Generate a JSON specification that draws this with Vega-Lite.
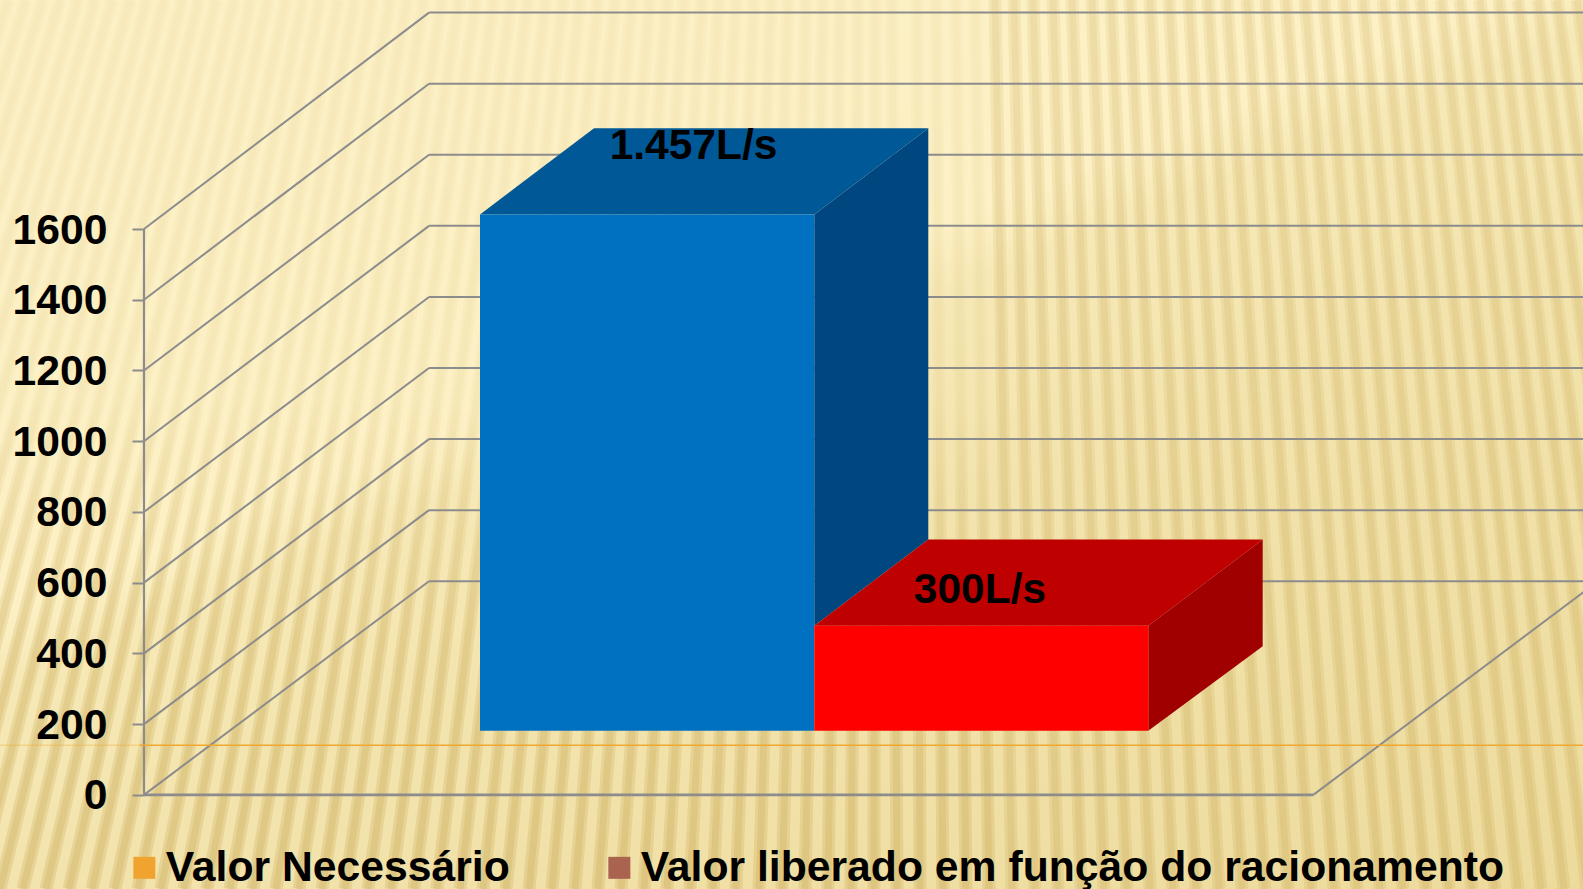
{"$schema":"https://vega.github.io/schema/vega-lite/v6.json","width":1439,"height":889,"autosize":{"type":"none"},"padding":{"left":144,"top":0,"right":0,"bottom":0},"background":"#FBEFC3","config":{"view":{"stroke":null},"font":"Liberation Sans"},
"datasets":{
"fundo":[{"nome":"fundo"}],
"listras":[{"xb":-299,"xt":-9},{"xb":-276,"xt":8},{"xb":-253,"xt":26},{"xb":-230,"xt":43},{"xb":-207,"xt":60},{"xb":-184,"xt":78},{"xb":-161,"xt":95},{"xb":-138,"xt":112},{"xb":-115,"xt":130},{"xb":-92,"xt":147},{"xb":-69,"xt":164},{"xb":-46,"xt":182},{"xb":-23,"xt":199},{"xb":0,"xt":216},{"xb":23,"xt":234},{"xb":46,"xt":251},{"xb":69,"xt":268},{"xb":92,"xt":286},{"xb":115,"xt":303},{"xb":138,"xt":320},{"xb":161,"xt":338},{"xb":184,"xt":355},{"xb":207,"xt":372},{"xb":230,"xt":390},{"xb":253,"xt":407},{"xb":276,"xt":424},{"xb":299,"xt":442},{"xb":322,"xt":459},{"xb":345,"xt":476},{"xb":368,"xt":494},{"xb":391,"xt":511},{"xb":414,"xt":528},{"xb":437,"xt":546},{"xb":460,"xt":563},{"xb":483,"xt":580},{"xb":506,"xt":598},{"xb":529,"xt":615},{"xb":552,"xt":632},{"xb":575,"xt":650},{"xb":598,"xt":667},{"xb":621,"xt":684},{"xb":644,"xt":702},{"xb":667,"xt":719},{"xb":690,"xt":736},{"xb":713,"xt":754},{"xb":736,"xt":771},{"xb":759,"xt":788},{"xb":782,"xt":806},{"xb":805,"xt":823},{"xb":828,"xt":840},{"xb":851,"xt":858},{"xb":874,"xt":875},{"xb":897,"xt":892},{"xb":920,"xt":917},{"xb":943,"xt":936},{"xb":966,"xt":956},{"xb":989,"xt":975},{"xb":1012,"xt":995},{"xb":1035,"xt":1014},{"xb":1058,"xt":1033},{"xb":1081,"xt":1053},{"xb":1104,"xt":1072},{"xb":1127,"xt":1092},{"xb":1150,"xt":1111},{"xb":1173,"xt":1130},{"xb":1196,"xt":1150},{"xb":1219,"xt":1169},{"xb":1242,"xt":1189},{"xb":1265,"xt":1208},{"xb":1288,"xt":1227},{"xb":1311,"xt":1247},{"xb":1334,"xt":1266},{"xb":1357,"xt":1286},{"xb":1380,"xt":1305},{"xb":1403,"xt":1324},{"xb":1426,"xt":1344},{"xb":1449,"xt":1363},{"xb":1472,"xt":1383},{"xb":1495,"xt":1402},{"xb":1518,"xt":1421},{"xb":1541,"xt":1441},{"xb":1564,"xt":1460},{"xb":1587,"xt":1480},{"xb":1610,"xt":1499},{"xb":1633,"xt":1518},{"xb":1656,"xt":1538},{"xb":1679,"xt":1557},{"xb":1702,"xt":1577},{"xb":1725,"xt":1596}],
"grade":[{"valor":0,"hb":604},{"valor":200,"hb":805},{"valor":400,"hb":1006},{"valor":600,"hb":1207},{"valor":800,"hb":1408},{"valor":1000,"hb":1609},{"valor":1200,"hb":1810},{"valor":1400,"hb":2011},{"valor":1600,"hb":2212}],
"frente":[{"serie":"Valor Necessário","x":480,"x2":814.3,"h":181,"h2":1641},{"serie":"Valor liberado em função do racionamento","x":814.3,"x2":1148.3,"h":181,"h2":478}],
"topo":[{"serie":"Valor Necessário","h":1641,"x":480,"x2":814.3},{"serie":"Valor Necessário","h":1885,"x":594,"x2":928.3},{"serie":"Valor liberado em função do racionamento","h":478,"x":814.3,"x2":1148.3},{"serie":"Valor liberado em função do racionamento","h":722,"x":928.3,"x2":1262.7}],
"lado":[{"serie":"Valor Necessário","x":814.3,"h":478,"h2":1641},{"serie":"Valor Necessário","x":928.3,"h":722,"h2":1885},{"serie":"Valor liberado em função do racionamento","x":1148.3,"h":181,"h2":478},{"serie":"Valor liberado em função do racionamento","x":1262.7,"h":420,"h2":722}],
"rotulos":[{"rotulo":"1.457L/s","x":693.5,"h":1797},{"rotulo":"300L/s","x":980,"h":542}],
"series":[{"serie":"Valor Necessário","valor":1457},{"serie":"Valor liberado em função do racionamento","valor":300}]
},
"resolve":{"scale":{"fill":"independent"},"axis":{"y":"independent"}},
"layer":[
{"data":{"name":"fundo"},"mark":{"type":"rect","fill":{"gradient":"linear","x1":0,"y1":0,"x2":0.825,"y2":1.13,"stops":[{"offset":0,"color":"#FCF0C6"},{"offset":0.40,"color":"#FCF0C4"},{"offset":0.44,"color":"#F7E9B7"},{"offset":0.58,"color":"#F3E4AE"},{"offset":1,"color":"#EDDB9C"}]}},"encoding":{"x":{"datum":0,"type":"quantitative","scale":{"domain":[144,1583]},"axis":null},"x2":{"datum":1583},"y":{"datum":2247.7,"type":"quantitative","scale":{"domain":[-266.3,2247.7]},"axis":null},"y2":{"datum":-266.3}}},
{"data":{"name":"listras"},"transform":[{"filter":"datum.xb<1000"}],"mark":{"type":"rule","strokeWidth":13,"stroke":{"gradient":"linear","x1":0,"y1":0,"x2":0,"y2":1,"stops":[{"offset":0,"color":"rgba(205,175,95,0.05)"},{"offset":0.45,"color":"rgba(205,175,95,0.07)"},{"offset":0.72,"color":"rgba(205,175,95,0.26)"},{"offset":1,"color":"rgba(205,175,95,0.32)"}]}},"encoding":{"x":{"field":"xb","type":"quantitative","scale":{"domain":[144,1583]},"axis":null},"x2":{"field":"xt"},"y":{"datum":-266.3,"type":"quantitative","scale":{"domain":[-266.3,2247.7]},"axis":null},"y2":{"datum":2247.7}}},
{"data":{"name":"listras"},"transform":[{"filter":"datum.xb<1000"}],"mark":{"type":"rule","strokeWidth":7,"stroke":{"gradient":"linear","x1":0,"y1":0,"x2":0,"y2":1,"stops":[{"offset":0,"color":"rgba(205,175,95,0.05)"},{"offset":0.45,"color":"rgba(205,175,95,0.07)"},{"offset":0.72,"color":"rgba(205,175,95,0.26)"},{"offset":1,"color":"rgba(205,175,95,0.32)"}]}},"encoding":{"x":{"field":"xb","type":"quantitative","scale":{"domain":[144,1583]},"axis":null},"x2":{"field":"xt"},"y":{"datum":-266.3,"type":"quantitative","scale":{"domain":[-266.3,2247.7]},"axis":null},"y2":{"datum":2247.7}}},
{"data":{"name":"listras"},"transform":[{"filter":"datum.xb>=1000"}],"mark":{"type":"rule","strokeWidth":13,"stroke":{"gradient":"linear","x1":0,"y1":0,"x2":0,"y2":1,"stops":[{"offset":0,"color":"rgba(205,175,95,0.16)"},{"offset":0.5,"color":"rgba(205,175,95,0.2)"},{"offset":1,"color":"rgba(205,175,95,0.26)"}]}},"encoding":{"x":{"field":"xb","type":"quantitative","scale":{"domain":[144,1583]},"axis":null},"x2":{"field":"xt"},"y":{"datum":-266.3,"type":"quantitative","scale":{"domain":[-266.3,2247.7]},"axis":null},"y2":{"datum":2247.7}}},
{"data":{"name":"listras"},"transform":[{"filter":"datum.xb>=1000"}],"mark":{"type":"rule","strokeWidth":7,"stroke":{"gradient":"linear","x1":0,"y1":0,"x2":0,"y2":1,"stops":[{"offset":0,"color":"rgba(205,175,95,0.16)"},{"offset":0.5,"color":"rgba(205,175,95,0.2)"},{"offset":1,"color":"rgba(205,175,95,0.26)"}]}},"encoding":{"x":{"field":"xb","type":"quantitative","scale":{"domain":[144,1583]},"axis":null},"x2":{"field":"xt"},"y":{"datum":-266.3,"type":"quantitative","scale":{"domain":[-266.3,2247.7]},"axis":null},"y2":{"datum":2247.7}}},
{"data":{"name":"grade"},"mark":{"type":"rule","color":"#8C8C8C","strokeWidth":2},"encoding":{"x":{"datum":144,"type":"quantitative","scale":{"domain":[144,1583]},"axis":null},"x2":{"datum":429},"y":{"field":"valor","type":"quantitative","scale":{"domain":[-266.3,2247.7]},"axis":{"title":null,"values":[0,200,400,600,800,1000,1200,1400,1600],"domain":false,"grid":false,"ticks":true,"tickSize":12,"tickColor":"#8C8C8C","tickWidth":2,"labelFont":"Liberation Sans","labelFontWeight":"bold","labelFontSize":42.7,"labelColor":"#000000","labelPadding":25,"labelOffset":1,"labelFlush":false,"labelOverlap":false,"zindex":1,"format":"d"}},"y2":{"field":"hb"}}},
{"data":{"name":"grade"},"mark":{"type":"rule","color":"#8C8C8C","strokeWidth":2},"encoding":{"x":{"datum":429,"type":"quantitative","scale":{"domain":[144,1583]},"axis":null},"x2":{"datum":1600},"y":{"field":"hb","type":"quantitative","scale":{"domain":[-266.3,2247.7]},"axis":null}}},
{"data":{"name":"fundo"},"mark":{"type":"rule","color":"#8C8C8C","strokeWidth":2.2},"encoding":{"x":{"datum":144,"type":"quantitative","scale":{"domain":[144,1583]},"axis":null},"y":{"datum":0,"type":"quantitative","scale":{"domain":[-266.3,2247.7]},"axis":null},"y2":{"datum":1600}}},
{"data":{"name":"fundo"},"mark":{"type":"rule","color":"#8C8C8C","strokeWidth":2.6},"encoding":{"x":{"datum":144,"type":"quantitative","scale":{"domain":[144,1583]},"axis":null},"x2":{"datum":1313.3},"y":{"datum":0,"type":"quantitative","scale":{"domain":[-266.3,2247.7]},"axis":null}}},
{"data":{"name":"fundo"},"mark":{"type":"rule","color":"#8C8C8C","strokeWidth":2},"encoding":{"x":{"datum":1313.3,"type":"quantitative","scale":{"domain":[144,1583]},"axis":null},"x2":{"datum":1598},"y":{"datum":0,"type":"quantitative","scale":{"domain":[-266.3,2247.7]},"axis":null},"y2":{"datum":604}}},
{"data":{"name":"fundo"},"mark":{"type":"rule","color":"#F0A830","strokeWidth":1.5,"opacity":0.35},"encoding":{"x":{"datum":0,"type":"quantitative","scale":{"domain":[144,1583]},"axis":null},"x2":{"datum":140},"y":{"datum":140.4,"type":"quantitative","scale":{"domain":[-266.3,2247.7]},"axis":null}}},
{"data":{"name":"fundo"},"mark":{"type":"rule","color":"#F0A830","strokeWidth":1.5},"encoding":{"x":{"datum":140,"type":"quantitative","scale":{"domain":[144,1583]},"axis":null},"x2":{"datum":1583},"y":{"datum":140.4,"type":"quantitative","scale":{"domain":[-266.3,2247.7]},"axis":null}}},
{"data":{"name":"lado"},"mark":{"type":"area","orient":"vertical"},"encoding":{"x":{"field":"x","type":"quantitative","scale":{"domain":[144,1583]},"axis":null},"y":{"field":"h","type":"quantitative","scale":{"domain":[-266.3,2247.7]},"axis":null,"stack":null},"y2":{"field":"h2"},"fill":{"field":"serie","type":"nominal","legend":null,"scale":{"domain":["Valor Necessário","Valor liberado em função do racionamento"],"range":["#00477F","#A00000"]}}}},
{"data":{"name":"topo"},"mark":{"type":"area","orient":"horizontal"},"encoding":{"y":{"field":"h","type":"quantitative","scale":{"domain":[-266.3,2247.7]},"axis":null},"x":{"field":"x","type":"quantitative","scale":{"domain":[144,1583]},"axis":null,"stack":null},"x2":{"field":"x2"},"fill":{"field":"serie","type":"nominal","legend":null,"scale":{"domain":["Valor Necessário","Valor liberado em função do racionamento"],"range":["#005896","#BE0000"]}}}},
{"data":{"name":"frente"},"mark":{"type":"rect"},"encoding":{"x":{"field":"x","type":"quantitative","scale":{"domain":[144,1583]},"axis":null},"x2":{"field":"x2"},"y":{"field":"h","type":"quantitative","scale":{"domain":[-266.3,2247.7]},"axis":null},"y2":{"field":"h2"},"fill":{"field":"serie","type":"nominal","legend":null,"scale":{"domain":["Valor Necessário","Valor liberado em função do racionamento"],"range":["#0070C0","#FF0000"]}}}},
{"data":{"name":"rotulos"},"mark":{"type":"text","font":"Liberation Sans","fontWeight":"bold","fontSize":42.5,"color":"#000000","align":"center","baseline":"alphabetic"},"encoding":{"x":{"field":"x","type":"quantitative","scale":{"domain":[144,1583]},"axis":null},"y":{"field":"h","type":"quantitative","scale":{"domain":[-266.3,2247.7]},"axis":null},"text":{"field":"rotulo"}}},
{"data":{"name":"series"},"mark":{"type":"point","filled":true,"shape":"square","opacity":0},"encoding":{"x":{"datum":700,"type":"quantitative","scale":{"domain":[144,1583]},"axis":null},"y":{"field":"valor","type":"quantitative","scale":{"domain":[-266.3,2247.7]},"axis":null},"color":{"field":"serie","type":"nominal","scale":{"domain":["Valor Necessário","Valor liberado em função do racionamento"],"range":["#F0A32F","#A9634F"]},"legend":{"title":null,"orient":"none","legendX":-21,"legendY":846,"direction":"horizontal","columns":2,"symbolType":"square","symbolSize":484,"symbolOpacity":1,"symbolStrokeWidth":0,"labelFont":"Liberation Sans","labelFontWeight":"bold","labelFontSize":42.7,"labelColor":"#000000","labelLimit":1200,"labelOffset":0,"columnPadding":88,"padding":0}}}}
]}
